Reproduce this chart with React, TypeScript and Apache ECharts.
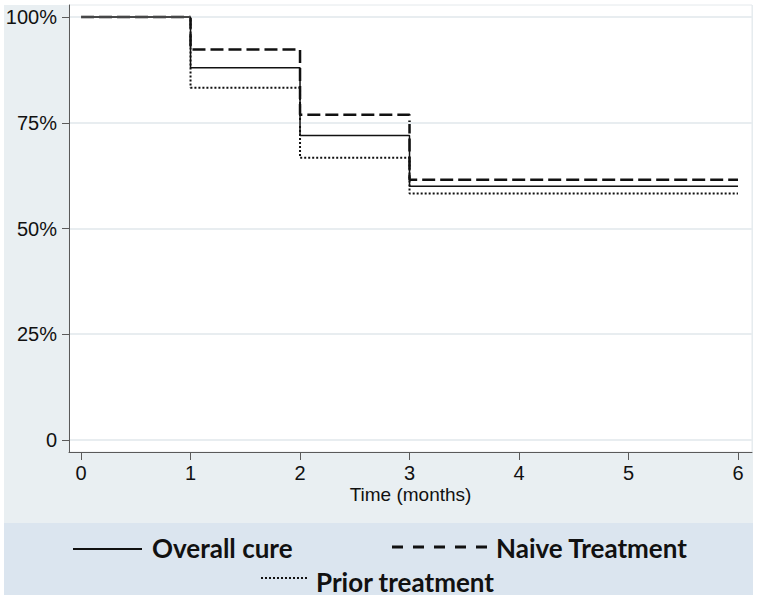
import React, { useEffect, useRef } from "react";
import * as echarts from "echarts";

const times = [0, 1, 2, 3, 6];
const overallCure = [100, 88, 72, 60, 60];
const naiveTreatment = [100, 92.3, 76.9, 61.5, 61.5];
const priorTreatment = [100, 83.3, 66.7, 58.3, 58.3];
const xTicks = [0, 1, 2, 3, 4, 5, 6];
const yTicks = [0, 25, 50, 75, 100];
const seriesNames = ["Overall cure", "Naive Treatment", "Prior treatment"];
const xAxisTitle = "Time (months)";

const pair = (vals: number[]) => times.map((t, i) => [t, vals[i]]);

export default function App() {
  const ref = useRef<HTMLDivElement>(null);
  useEffect(() => {
    if (!ref.current) return;
    const chart = echarts.init(ref.current, null, { renderer: "svg" });
    const axisFont = "'Liberation Sans', Arial, sans-serif";
    const legendFont = "Lato, 'Noto Sans', sans-serif";
    chart.setOption({
      animation: false,
      backgroundColor: "#ffffff",
      grid: {
        left: 69,
        right: 6,
        top: 5,
        bottom: 148,
        show: true,
        backgroundColor: "#ffffff",
        borderColor: "#e4e9ec",
        borderWidth: 1,
      },
      xAxis: {
        type: "value",
        min: -0.11,
        max: 6.128,
        name: xAxisTitle,
        nameLocation: "middle",
        nameGap: 33,
        nameMoveOverlap: false,
        nameTextStyle: { fontFamily: axisFont, fontSize: 19, color: "#111", lineHeight: 19 },
        axisLine: { show: true, onZero: false, lineStyle: { color: "#5a5a5a", width: 1 } },
        axisTick: { show: true, length: 8, lineStyle: { color: "#5a5a5a" }, customValues: xTicks },
        axisLabel: {
          customValues: xTicks,
          margin: 11,
          fontFamily: axisFont,
          fontSize: 20,
          lineHeight: 20,
          color: "#111",
        },
        splitLine: { show: false },
        z: 5,
      },
      yAxis: {
        type: "value",
        min: -2.84,
        max: 102.84,
        axisLine: { show: true, onZero: false, lineStyle: { color: "#5a5a5a", width: 1 } },
        axisTick: { show: true, length: 7, lineStyle: { color: "#5a5a5a" }, customValues: yTicks },
        axisLabel: {
          customValues: yTicks,
          margin: 12,
          fontFamily: axisFont,
          fontSize: 20,
          color: "#111",
          formatter: (v: number) => (v === 0 ? "0" : v + "%"),
        },
        splitLine: { show: true, lineStyle: { color: "#e8edf0", width: 2 } },
        z: 5,
      },
      series: [
        {
          name: seriesNames[2],
          type: "line",
          step: "end",
          showSymbol: false,
          data: pair(priorTreatment),
          lineStyle: { color: "#111", width: 2, type: [2, 2] },
          z: 3,
        },
        {
          name: seriesNames[1],
          type: "line",
          step: "end",
          showSymbol: false,
          data: pair(naiveTreatment),
          lineStyle: { color: "#111", width: 2.5, type: [13, 5] },
          z: 4,
        },
        {
          name: seriesNames[0],
          type: "line",
          step: "end",
          showSymbol: false,
          data: pair(overallCure),
          lineStyle: { color: "#111", width: 1.5, type: "solid" },
          z: 5,
        },
      ],
      graphic: [
        {
          type: "rect",
          z: -10,
          shape: { x: 4, y: 5, width: 749, height: 518 },
          style: { fill: "#e9eff2" },
          silent: true,
        },
        {
          type: "rect",
          z: -10,
          shape: { x: 4, y: 523, width: 749, height: 72 },
          style: { fill: "#dbe5ef" },
          silent: true,
        },
        {
          type: "line",
          z: 10,
          shape: { x1: 73, y1: 549, x2: 142, y2: 549 },
          style: { stroke: "#111", lineWidth: 2 },
        },
        {
          type: "text",
          z: 10,
          x: 152,
          y: 548,
          style: {
            text: seriesNames[0],
            fontFamily: legendFont,
            fontWeight: "bold",
            fontSize: 26,
            fill: "#111",
            verticalAlign: "middle",
          },
        },
        {
          type: "line",
          z: 10,
          shape: { x1: 392, y1: 547, x2: 487, y2: 547 },
          style: { stroke: "#111", lineWidth: 3, lineDash: [11, 10] },
        },
        {
          type: "text",
          z: 10,
          x: 496,
          y: 548,
          style: {
            text: seriesNames[1],
            fontFamily: legendFont,
            fontWeight: "bold",
            fontSize: 26,
            fill: "#111",
            verticalAlign: "middle",
          },
        },
        {
          type: "line",
          z: 10,
          shape: { x1: 261, y1: 578, x2: 307, y2: 578 },
          style: { stroke: "#111", lineWidth: 2, lineDash: [2, 2] },
        },
        {
          type: "text",
          z: 10,
          x: 316,
          y: 582,
          style: {
            text: seriesNames[2],
            fontFamily: legendFont,
            fontWeight: "bold",
            fontSize: 26,
            fill: "#111",
            verticalAlign: "middle",
          },
        },
      ],
    });
    return () => chart.dispose();
  }, []);
  return (
    <div
      ref={ref}
      style={{ position: "absolute", left: 0, top: 0, width: 758, height: 600 }}
    />
  );
}
